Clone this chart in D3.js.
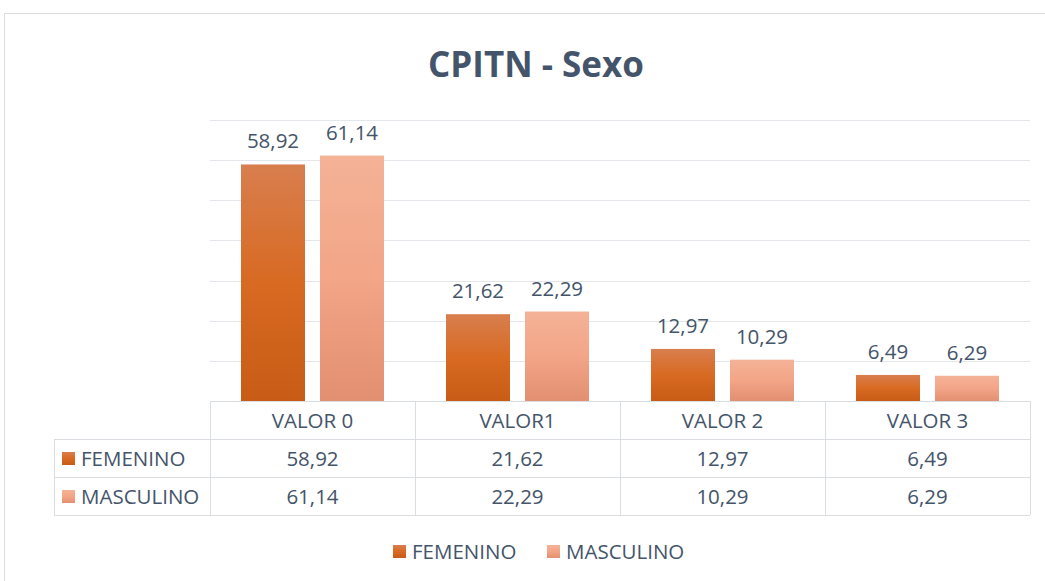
<!DOCTYPE html>
<html>
<head>
  <meta charset="UTF-8">
  <title>CPITN - Sexo</title>
  <script src="https://d3js.org/d3.v7.min.js"></script>
  <style>
    body { margin: 0; background: #fff; }
    text { font-family: "Open Sans", sans-serif; fill: #44546a; }
  </style>
</head>
<body>
  <svg></svg>
</body>
<script>
  let width = 1045,
    height = 581;

  // data
  let categories = ["VALOR 0", "VALOR1", "VALOR 2", "VALOR 3"];
  let seriesNames = ["FEMENINO", "MASCULINO"];
  let femenino = [58.92, 21.62, 12.97, 6.49];
  let masculino = [61.14, 22.29, 10.29, 6.29];
  let yTicks = [0, 10, 20, 30, 40, 50, 60, 70];

  let series = [femenino, masculino];
  let fmt = v => v.toFixed(2).replace(".", ",");
  let fs = "20.5px";

  let svg = d3.select("svg")
    .attr("width", width)
    .attr("height", height);

  let defs = svg.append("defs");
  let grads = [
    ["gFem", "#d87e4e", "#d86a22", "#c85c16"],
    ["gMas", "#f4b297", "#f3a587", "#e38f71"]
  ];
  grads.forEach(g => {
    let lg = defs.append("linearGradient")
      .attr("id", g[0])
      .attr("x1", 0).attr("y1", 0).attr("x2", 0).attr("y2", 1);
    lg.append("stop").attr("offset", "0%").attr("stop-color", g[1]);
    lg.append("stop").attr("offset", "50%").attr("stop-color", g[2]);
    lg.append("stop").attr("offset", "100%").attr("stop-color", g[3]);
  });
  let fills = ["url(#gFem)", "url(#gMas)"];

  // chart border
  svg.append("rect")
    .attr("x", 4.5).attr("y", 13.5)
    .attr("width", 1100).attr("height", 600)
    .attr("fill", "none")
    .attr("stroke", "#d9dde3");

  svg.append("text")
    .attr("x", 536).attr("y", 77)
    .attr("text-anchor", "middle")
    .style("font-size", "35px")
    .style("font-weight", "bold")
    .text("CPITN - Sexo");

  let plotL = 210, plotR = 1030, plotT = 120, plotB = 401;

  let x = d3.scaleBand()
    .domain(categories)
    .range([plotL, plotR]);

  let xInner = d3.scaleBand()
    .domain(seriesNames)
    .range([31, x.bandwidth() - 31])
    .paddingInner(15 / 79);

  let y = d3.scaleLinear()
    .domain([0, 70])
    .range([plotB, plotT]);

  // gridlines
  svg.append("g")
    .selectAll("line")
    .data(yTicks.slice(1))
    .enter()
    .append("line")
    .attr("x1", plotL).attr("x2", plotR)
    .attr("y1", d => Math.round(y(d)) + 0.5)
    .attr("y2", d => Math.round(y(d)) + 0.5)
    .attr("stroke", "#e3e6ea");

  // bars
  let groups = svg.append("g")
    .selectAll("g")
    .data(categories)
    .enter()
    .append("g")
    .attr("transform", d => "translate(" + x(d) + ",0)");

  groups.selectAll("rect")
    .data((d, i) => series.map((s, j) => ({ name: seriesNames[j], v: s[i], j: j })))
    .enter()
    .append("rect")
    .attr("x", d => xInner(d.name))
    .attr("width", xInner.bandwidth())
    .attr("y", d => y(d.v))
    .attr("height", d => y(0) - y(d.v))
    .attr("fill", d => fills[d.j]);

  groups.selectAll("text")
    .data((d, i) => series.map((s, j) => ({ name: seriesNames[j], v: s[i] })))
    .enter()
    .append("text")
    .attr("x", d => xInner(d.name) + xInner.bandwidth() / 2)
    .attr("y", d => y(d.v) - 16)
    .attr("text-anchor", "middle")
    .style("font-size", fs)
    .text(d => fmt(d.v));

  // data table
  let rowH = 38;
  let tableLeft = 54;
  let tbl = svg.append("g").attr("stroke", "#dadde2").attr("fill", "none");
  tbl.append("line").attr("x1", plotL).attr("x2", plotR).attr("y1", plotB + 0.5).attr("y2", plotB + 0.5);
  [1, 2, 3].forEach(r => {
    tbl.append("line")
      .attr("x1", tableLeft).attr("x2", plotR)
      .attr("y1", plotB + r * rowH + 0.5).attr("y2", plotB + r * rowH + 0.5);
  });
  tbl.append("line").attr("x1", tableLeft + 0.5).attr("x2", tableLeft + 0.5)
    .attr("y1", plotB + rowH).attr("y2", plotB + 3 * rowH);
  categories.concat(["end"]).forEach((c, i) => {
    let xx = plotL + i * x.bandwidth();
    tbl.append("line").attr("x1", xx + 0.5).attr("x2", xx + 0.5)
      .attr("y1", plotB).attr("y2", plotB + 3 * rowH);
  });

  svg.append("g")
    .selectAll("text")
    .data(categories)
    .enter()
    .append("text")
    .attr("x", d => x(d) + x.bandwidth() / 2)
    .attr("y", plotB + 27)
    .attr("text-anchor", "middle")
    .style("font-size", fs)
    .text(d => d);

  series.forEach((s, j) => {
    let ry = plotB + (j + 1) * rowH;
    svg.append("rect")
      .attr("x", 62).attr("y", ry + 13)
      .attr("width", 13).attr("height", 13)
      .attr("fill", fills[j]);
    svg.append("text")
      .attr("x", 81).attr("y", ry + 27)
      .style("font-size", fs)
      .text(seriesNames[j]);
    svg.append("g")
      .selectAll("text")
      .data(categories)
      .enter()
      .append("text")
      .attr("x", d => x(d) + x.bandwidth() / 2)
      .attr("y", ry + 27)
      .attr("text-anchor", "middle")
      .style("font-size", fs)
      .text((d, i) => fmt(s[i]));
  });

  // legend
  let legendX = [393, 547];
  seriesNames.forEach((n, j) => {
    svg.append("rect")
      .attr("x", legendX[j]).attr("y", 545)
      .attr("width", 13).attr("height", 13)
      .attr("fill", fills[j]);
    svg.append("text")
      .attr("x", legendX[j] + 19).attr("y", 559)
      .style("font-size", fs)
      .text(n);
  });
</script>
</html>
